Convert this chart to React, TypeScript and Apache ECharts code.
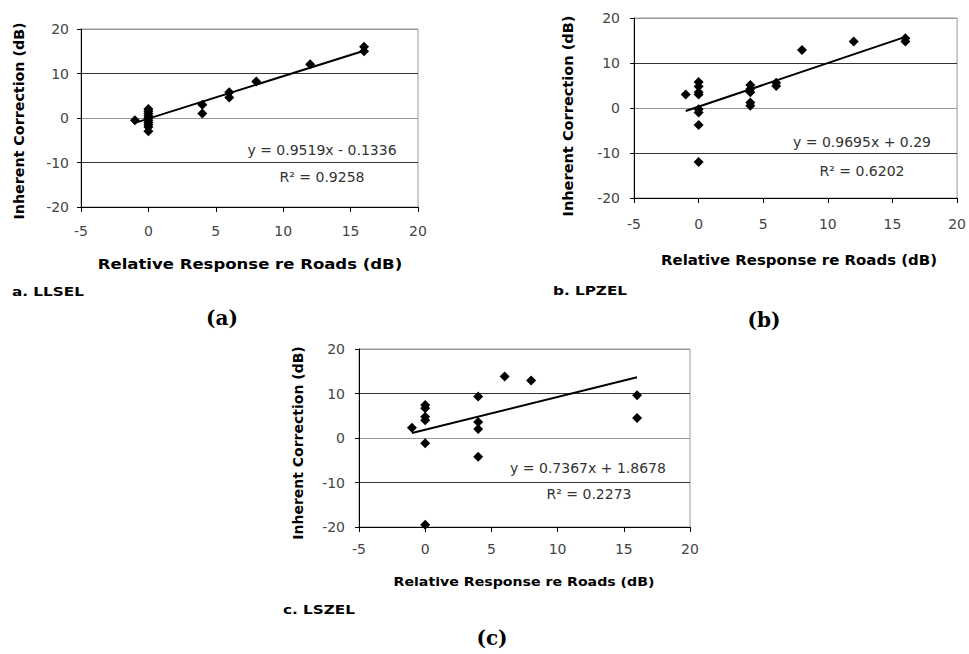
import React, { useEffect, useRef } from "react";
import * as echarts from "echarts";

// ---- data ----
const xTicks = { min: -5, max: 20, interval: 5 };
const yTicks = { min: -20, max: 20, interval: 10 };

const llselX = [-1, 0, 0, 0, 0, 0, 0, 0, 0, 0, 0, 4, 4, 6, 6, 8, 12, 16, 16];
const llselY = [-0.5, 2, 1.5, 1, 0.5, 0, -0.5, -1, -1.5, -2, -3, 3, 1, 5.8, 4.6, 8.2, 12.1, 16, 15];
const llselFit = [0.9519, -0.1336];

const lpzelX = [-1, 0, 0, 0, 0, 0, 0, 0, 0, 4, 4, 4, 4, 4, 6, 6, 8, 12, 16, 16];
const lpzelY = [3, 5.8, 4.8, 3.5, 3, -0.3, -1, -3.8, -12, 5.1, 4.2, 3.5, 1.2, 0.5, 5.6, 4.9, 12.9, 14.8, 15.5, 14.8];
const lpzelFit = [0.9695, 0.29];

const lszelX = [-1, 0, 0, 0, 0, 0, 0, 4, 4, 4, 4, 6, 8, 16, 16];
const lszelY = [2.3, 7.4, 6.7, 4.8, 4.0, -1.2, -19.5, 9.3, 3.6, 2.0, -4.2, 13.8, 12.9, 9.6, 4.5];
const lszelFit = [0.7367, 1.8678];

const fitRange = [-1, 16];

const panels = [
  { x: llselX, y: llselY, fit: llselFit, eq: "y = 0.9519x - 0.1336", r2: "R² = 0.9258", tag: "a. LLSEL", sub: "(a)" },
  { x: lpzelX, y: lpzelY, fit: lpzelFit, eq: "y = 0.9695x + 0.29", r2: "R² = 0.6202", tag: "b. LPZEL", sub: "(b)" },
  { x: lszelX, y: lszelY, fit: lszelFit, eq: "y = 0.7367x + 1.8678", r2: "R² = 0.2273", tag: "c. LSZEL", sub: "(c)" },
];

const xTitle = "Relative Response re Roads (dB)";
const yTitle = "Inherent Correction (dB)";

// ---- layout ----
const grids = [
  { left: 81, top: 29, width: 337, height: 178 },
  { left: 634, top: 18, width: 325, height: 180 },
  { left: 359, top: 349, width: 331, height: 178 },
];
const xLabelMargin = [17, 19, 15];
const yLabelMargin = [12, 14, 14];

const layout = [
  {
    eq: [322, 150], r2: [322, 177], xt: [250, 264, 1.18, 14], yt: [19, 121, 1.02, 14],
    tag: [12, 292, 1.27], sub: [222, 318],
  },
  {
    eq: [862, 142], r2: [862, 171], xt: [799, 260, 1.07, 14], yt: [568, 116, 1.04, 14],
    tag: [553, 291, 1.27], sub: [764, 320],
  },
  {
    eq: [588, 468], r2: [589, 494], xt: [524, 582, 1.18, 12], yt: [298, 443, 1.0, 14],
    tag: [283, 610, 1.27], sub: [492, 638],
  },
];

const sans = "DejaVu Sans";

export default function App() {
  const ref = useRef<HTMLDivElement>(null);
  useEffect(() => {
    if (!ref.current) return;
    const chart = echarts.init(ref.current, undefined, { renderer: "svg" });

    const xAxis = grids.map((_, i) => ({
      type: "value",
      gridIndex: i,
      min: xTicks.min,
      max: xTicks.max,
      interval: xTicks.interval,
      axisLine: { show: true, onZero: false, lineStyle: { color: "#000", width: 1 } },
      axisTick: { show: true, inside: false, length: 5, lineStyle: { color: "#000" } },
      axisLabel: { margin: xLabelMargin[i], fontFamily: sans, fontSize: 14, color: "#444" },
      splitLine: { show: false },
    }));
    const yAxis = grids.map((_, i) => ({
      type: "value",
      gridIndex: i,
      min: yTicks.min,
      max: yTicks.max,
      interval: yTicks.interval,
      axisLine: { show: true, onZero: false, lineStyle: { color: "#000", width: 1 } },
      axisTick: { show: true, inside: false, length: 4, lineStyle: { color: "#000" } },
      axisLabel: { margin: yLabelMargin[i], fontFamily: sans, fontSize: 14, color: "#444" },
      splitLine: { show: true, lineStyle: { color: ["#000", "#333", "#999", "#333", "#999"], width: 1 } },
    }));

    const series: any[] = [];
    panels.forEach((p, i) => {
      series.push({
        type: "scatter",
        xAxisIndex: i,
        yAxisIndex: i,
        symbol: "diamond",
        symbolSize: 10,
        itemStyle: { color: "#000", opacity: 1 },
        data: p.x.map((v, k) => [v, p.y[k]]),
        z: 3,
      });
      series.push({
        type: "line",
        xAxisIndex: i,
        yAxisIndex: i,
        showSymbol: false,
        symbol: "none",
        lineStyle: { color: "#000", width: 2 },
        data: fitRange.map((v) => [v, p.fit[0] * v + p.fit[1]]),
        z: 4,
      });
    });

    const graphic: any[] = [];
    panels.forEach((p, i) => {
      const L = layout[i];
      graphic.push({
        type: "text", x: L.eq[0], y: L.eq[1], z: 10,
        style: { text: p.eq, fontFamily: sans, fontSize: 14, fill: "#333", align: "center", verticalAlign: "middle" },
      });
      graphic.push({
        type: "text", x: L.r2[0], y: L.r2[1], z: 10,
        style: { text: p.r2, fontFamily: sans, fontSize: 14, fill: "#333", align: "center", verticalAlign: "middle" },
      });
      graphic.push({
        type: "text", x: L.xt[0], y: L.xt[1], scaleX: L.xt[2], z: 10,
        style: { text: xTitle, fontFamily: sans, fontWeight: "bold", fontSize: L.xt[3], fill: "#000", align: "center", verticalAlign: "middle" },
      });
      graphic.push({
        type: "text", x: L.yt[0], y: L.yt[1], rotation: Math.PI / 2, scaleX: L.yt[2], z: 10,
        style: { text: yTitle, fontFamily: sans, fontWeight: "bold", fontSize: L.yt[3], fill: "#000", align: "center", verticalAlign: "middle" },
      });
      graphic.push({
        type: "text", x: L.tag[0], y: L.tag[1], scaleX: L.tag[2], z: 10,
        style: { text: p.tag, fontFamily: sans, fontWeight: "bold", fontSize: 12, fill: "#000", align: "left", verticalAlign: "middle" },
      });
      graphic.push({
        type: "text", x: L.sub[0], y: L.sub[1], z: 10,
        style: { text: p.sub, fontFamily: "DejaVu Serif", fontWeight: "bold", fontSize: 20, fill: "#000", align: "center", verticalAlign: "middle" },
      });
    });

    chart.setOption({
      animation: false,
      backgroundColor: "#fff",
      grid: grids.map((g) => ({ ...g, show: true, borderColor: "#999", borderWidth: 1, backgroundColor: "#fff", containLabel: false })),
      xAxis,
      yAxis,
      series,
      graphic,
    });
    return () => chart.dispose();
  }, []);
  return <div ref={ref} style={{ position: "absolute", left: 0, top: 0, width: 969, height: 654 }} />;
}
